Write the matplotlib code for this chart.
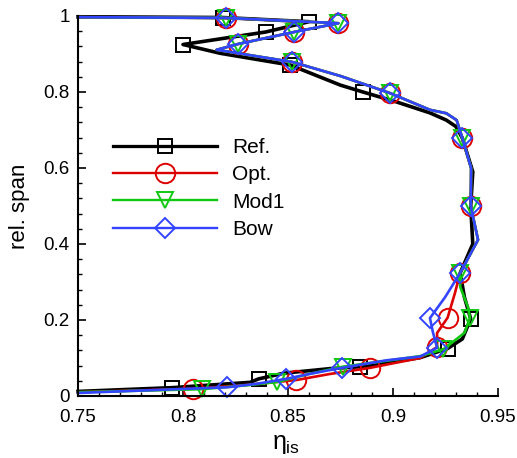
import matplotlib
matplotlib.use("Agg")
import matplotlib.pyplot as plt
from matplotlib.lines import Line2D
from matplotlib.ticker import MultipleLocator, FuncFormatter

plt.rcParams['font.family'] = ['Liberation Sans', 'DejaVu Sans']
plt.rcParams['mathtext.fontset'] = 'custom'
plt.rcParams['mathtext.rm'] = 'Liberation Sans'
plt.rcParams['mathtext.it'] = 'Liberation Sans'

# ---- data (eta_is, rel. span), ordered from hub to shroud ----
ref_eta = [0.750, 0.795, 0.832, 0.836, 0.848, 0.870, 0.8843, 0.900, 0.913, 0.926, 0.933, 0.937,
           0.934, 0.932, 0.938, 0.937, 0.938, 0.933, 0.930, 0.9254, 0.9176, 0.9016, 0.8857, 0.875,
           0.851, 0.8176, 0.800, 0.8395, 0.860, 0.819, 0.750]
ref_span = [0.012, 0.022, 0.036, 0.045, 0.060, 0.072, 0.077, 0.090, 0.101, 0.125, 0.150, 0.203,
            0.260, 0.324, 0.400, 0.500, 0.590, 0.679, 0.709, 0.726, 0.745, 0.774, 0.800, 0.818,
            0.871, 0.902, 0.925, 0.958, 0.985, 0.996, 0.998]
ref_mk = [1, 3, 6, 9, 11, 22, 24, 26, 27, 28, 29]

opt_eta = [0.750, 0.805, 0.830, 0.854, 0.870, 0.889, 0.900, 0.913, 0.921, 0.921, 0.926, 0.9295,
           0.932, 0.9405, 0.937, 0.9372, 0.933, 0.9303, 0.9254, 0.9176, 0.8986, 0.875, 0.852,
           0.816, 0.826, 0.853, 0.874, 0.8205, 0.750]
opt_span = [0.010, 0.019, 0.029, 0.042, 0.058, 0.074, 0.086, 0.100, 0.129, 0.166, 0.206, 0.271,
            0.324, 0.411, 0.500, 0.600, 0.679, 0.726, 0.744, 0.753, 0.797, 0.842, 0.879,
            0.911, 0.926, 0.958, 0.981, 0.995, 0.997]
opt_mk = [1, 3, 5, 8, 10, 12, 14, 16, 20, 22, 24, 25, 26, 27]

mod_eta = [0.750, 0.809, 0.830, 0.845, 0.860, 0.876, 0.900, 0.913, 0.924, 0.934, 0.9367, 0.9357,
           0.932, 0.932, 0.9405, 0.937, 0.9372, 0.933, 0.9303, 0.9254, 0.9176, 0.8986, 0.875,
           0.852, 0.816, 0.826, 0.853, 0.874, 0.8205, 0.750]
mod_span = [0.010, 0.018, 0.028, 0.037, 0.058, 0.077, 0.095, 0.105, 0.123, 0.166, 0.205, 0.234,
            0.287, 0.324, 0.411, 0.500, 0.600, 0.679, 0.726, 0.744, 0.753, 0.797, 0.842,
            0.879, 0.911, 0.926, 0.958, 0.981, 0.995, 0.997]
mod_mk = [1, 3, 5, 8, 10, 13, 15, 17, 21, 23, 25, 26, 27, 28]

bow_eta = [0.750, 0.821, 0.835, 0.849, 0.862, 0.8755, 0.897, 0.913, 0.921, 0.919, 0.9176, 0.9248,
           0.932, 0.9405, 0.937, 0.9372, 0.933, 0.9303, 0.9254, 0.9176, 0.8986, 0.875, 0.852,
           0.816, 0.826, 0.853, 0.874, 0.8205, 0.750]
bow_span = [0.008, 0.023, 0.032, 0.045, 0.060, 0.074, 0.094, 0.104, 0.127, 0.168, 0.205, 0.260,
            0.324, 0.411, 0.500, 0.600, 0.679, 0.726, 0.744, 0.753, 0.797, 0.842, 0.879,
            0.911, 0.926, 0.958, 0.981, 0.995, 0.997]
bow_mk = [1, 3, 5, 8, 10, 12, 14, 16, 20, 22, 24, 25, 26, 27]

labels = ['Ref.', 'Opt.', 'Mod1', 'Bow']
x_ticks = [0.75, 0.8, 0.85, 0.9, 0.95]
y_ticks = [0, 0.2, 0.4, 0.6, 0.8, 1.0]

# ---- style ----
styles = [
    dict(color='#000000', lw=2.6, marker='s', ms=10.5, mew=1.4),
    dict(color='#dd0000', lw=1.9, marker='o', ms=14, mew=1.4),
    dict(color='#11c811', lw=1.9, marker='v', ms=12, mew=1.4),
    dict(color='#3344ff', lw=1.9, marker='D', ms=10, mew=1.4),
]

fig = plt.figure(figsize=(5.17, 4.58), dpi=100)
ax = fig.add_axes([78 / 517, 1 - 396 / 458, 420 / 517, 380 / 458])

series = [(ref_eta, ref_span, ref_mk), (opt_eta, opt_span, opt_mk),
          (mod_eta, mod_span, mod_mk), (bow_eta, bow_span, bow_mk)]
handles = []
for (xs, ys, mk), st, lab in zip(series, styles, labels):
    ax.plot(xs, ys, color=st['color'], lw=st['lw'], clip_on=False,
            solid_joinstyle='round')
    ax.plot([xs[i] for i in mk], [ys[i] for i in mk], ls='none', marker=st['marker'],
            ms=st['ms'], mfc='none', mec=st['color'], mew=st['mew'], clip_on=False)
    handles.append(Line2D([], [], color=st['color'], lw=st['lw'] * 0.9, marker=st['marker'],
                          ms=st['ms'], mfc='none', mec=st['color'], mew=st['mew']))

ax.set_xlim(0.75, 0.95)
ax.set_ylim(0, 1)
ax.set_xticks(x_ticks)
ax.set_yticks(y_ticks)
ax.xaxis.set_minor_locator(MultipleLocator(0.01))
ax.yaxis.set_minor_locator(MultipleLocator(0.04))
fmt = FuncFormatter(lambda v, _: f'{v:g}')
ax.xaxis.set_major_formatter(fmt)
ax.yaxis.set_major_formatter(fmt)
ax.tick_params(which='major', direction='in', length=6, width=1.2, labelsize=13.5)
ax.tick_params(axis='x', which='major', pad=9)
ax.tick_params(axis='y', which='major', pad=6)
ax.tick_params(which='minor', direction='in', length=3, width=1.0)
for s in ['top', 'right']:
    ax.spines[s].set_visible(False)
for s in ['left', 'bottom']:
    ax.spines[s].set_linewidth(1.5)

ax.set_ylabel('rel. span', fontsize=16)
ax.yaxis.set_label_coords(-0.114, 0.5)
ax.set_xlabel(r'$\eta_{\mathrm{is}}$', fontsize=18)
ax.xaxis.label.set_va('center')
ax.xaxis.set_label_coords(0.495, -0.125)

ax.legend(handles, labels, loc='upper left', bbox_to_anchor=(113 / 517, 1 - 138 / 458),
          bbox_transform=fig.transFigure, frameon=False, borderpad=0, borderaxespad=0,
          handlelength=5, handletextpad=0.7, labelspacing=0.4, fontsize=15, numpoints=1)

fig.savefig('out.png', dpi=100)
